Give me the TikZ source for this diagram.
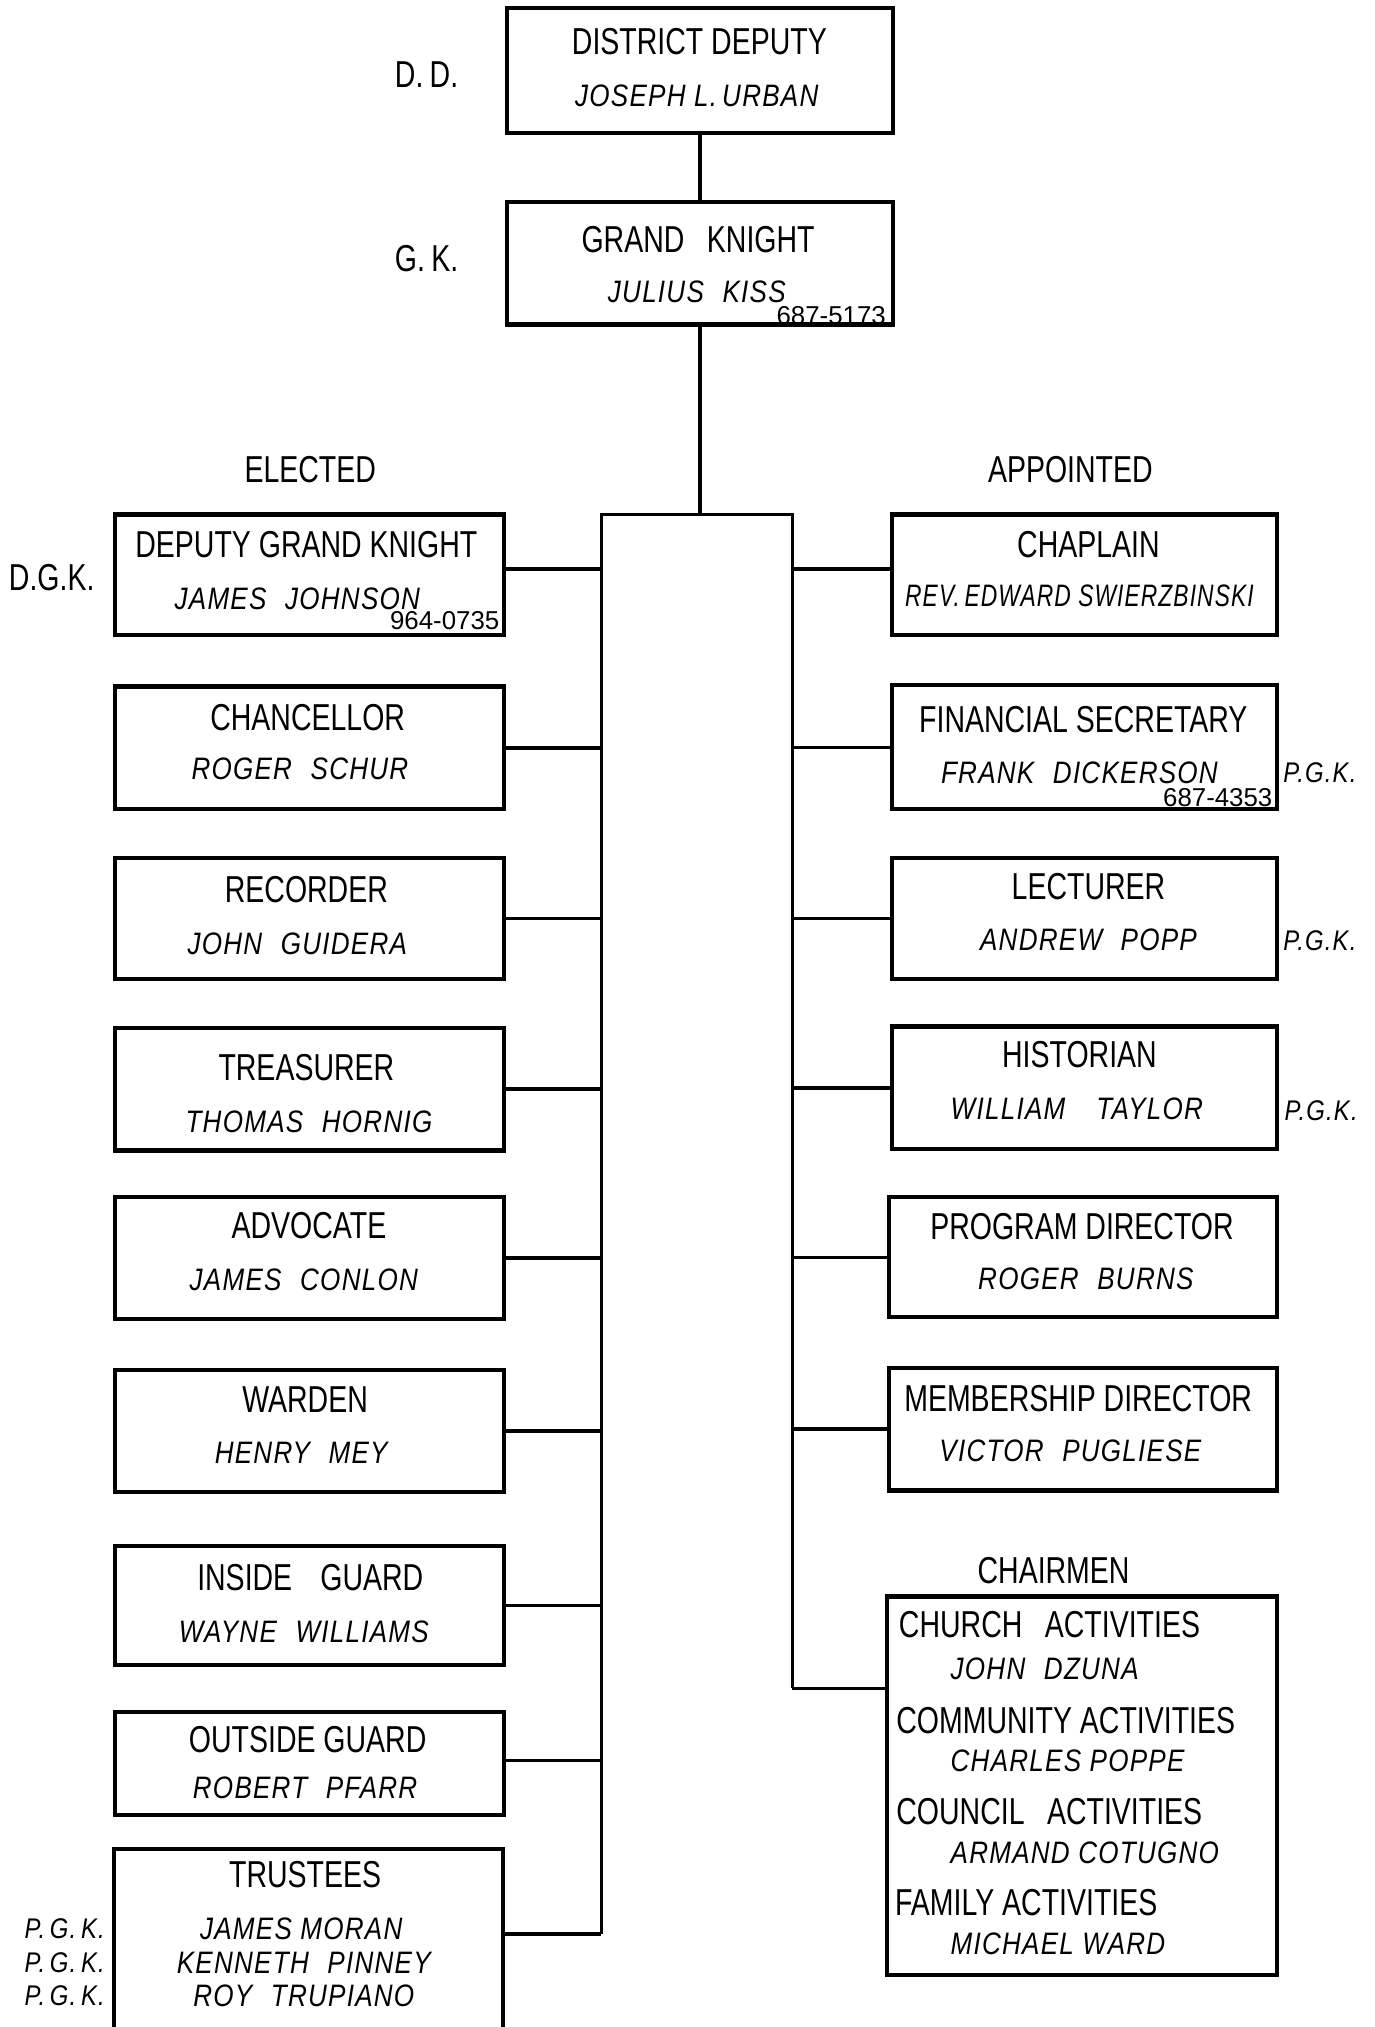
\documentclass[tikz,border=0pt]{standalone}
\usepackage{fontspec}
\usepackage{graphicx}
\setmainfont{Liberation Sans}
\newfontfamily\ttlfont[FakeStretch=0.76]{Liberation Sans}
\newfontfamily\nmfont[FakeStretch=0.84,LetterSpace=4]{Liberation Sans}
\newfontfamily\phfont{Liberation Sans}
\usetikzlibrary{fit}
\newcommand\gap{\hspace{0.6em}}
\tikzset{
  bx/.style={draw, line width=1.6pt, inner sep=0pt},
  cn/.style={line width=1.3pt},
  bus/.style={line width=1.15pt},
  tt/.style={font=\ttlfont\fontsize{14.5}{16}\selectfont, inner sep=0pt},
  nm/.style={font=\nmfont\itshape\fontsize{12}{14}\selectfont, inner sep=0pt},
  ph/.style={font=\phfont\fontsize{10}{12}\selectfont, inner sep=0pt},
  pgk/.style={font=\nmfont\itshape\fontsize{11}{13}\selectfont, inner sep=0pt},
}
\begin{document}
\begin{tikzpicture}[x=0.5pt,y=-0.5pt]
\useasboundingbox (0,0) rectangle (1063,1568);
\fill[white] (0,0) rectangle (1063,1568);

% top boxes
\node[bx, fit={(392,6) (691,103)}] (dd) {};
\node[bx, fit={(392,156) (691,251)}] (gk) {};
\node[tt] (ddT) at (541,32) {DISTRICT DEPUTY};
\node[nm] (ddN) at (539,74) {JOSEPH L.\,URBAN};
\node[tt] (gkT) at (540,185) {GRAND\gap KNIGHT};
\node[nm] (gkN) at (539,226) {JULIUS\gap KISS};
\node[ph] (gkP) at (643,244) {687-5173};
\node[tt] (ddL) at (330,58) {D.\,D.};
\node[tt] (gkL) at (330,200) {G.\,K.};

\node[tt] (elected) at (240,363) {ELECTED};
\node[tt] (appointed) at (828,363) {APPOINTED};
\node[tt] (chairmen) at (815,1215) {CHAIRMEN};

% left column
\node[bx, fit={(89,398) (390,491)}] (dgk) {};
\node[bx, fit={(89,531) (390,626)}] (chan) {};
\node[bx, fit={(89,664) (390,757)}] (rec) {};
\node[bx, fit={(89,795) (390,890)}] (treas) {};
\node[bx, fit={(89,926) (390,1020)}] (adv) {};
\node[bx, fit={(89,1060) (390,1154)}] (ward) {};
\node[bx, fit={(89,1196) (390,1288)}] (ig) {};
\node[bx, fit={(89,1324) (390,1404)}] (og) {};
\node[bx, fit={(88,1430) (389,1610)}] (trus) {};

\node[tt] (dgkT) at (237,421) {DEPUTY GRAND KNIGHT};
\node[nm] (dgkN) at (230,463) {JAMES\gap JOHNSON};
\node[ph] (dgkP) at (344,480) {964-0735};
\node[tt] (dgkL) at (40,447) {D.G.K.};
\node[tt] (chanT) at (238,555) {CHANCELLOR};
\node[nm] (chanN) at (232,595) {ROGER\gap SCHUR};
\node[tt] (recT) at (237,688) {RECORDER};
\node[nm] (recN) at (230,730) {JOHN\gap GUIDERA};
\node[tt] (treasT) at (237,826) {TREASURER};
\node[nm] (treasN) at (239,868) {THOMAS\gap HORNIG};
\node[tt] (advT) at (239,948) {ADVOCATE};
\node[nm] (advN) at (235,990) {JAMES\gap CONLON};
\node[tt] (wardT) at (236,1083) {WARDEN};
\node[nm] (wardN) at (233,1124) {HENRY\gap MEY};
\node[tt] (igT) at (240,1220) {INSIDE\hspace{0.75em}GUARD};
\node[nm] (igN) at (235,1262) {WAYNE\gap WILLIAMS};
\node[tt] (ogT) at (238,1346) {OUTSIDE GUARD};
\node[nm] (ogN) at (236,1383) {ROBERT\gap PFARR};
\node[tt] (trusT) at (236,1450) {TRUSTEES};
\node[nm] (trusN1) at (233,1492) {JAMES MORAN};
\node[nm] (trusN2) at (235,1518) {KENNETH\gap PINNEY};
\node[nm] (trusN3) at (235,1544) {ROY\gap TRUPIANO};
\node[pgk] (trusL1) at (50,1492) {P.\,G.\,K.};
\node[pgk] (trusL2) at (50,1518) {P.\,G.\,K.};
\node[pgk] (trusL3) at (50,1544) {P.\,G.\,K.};

% right column
\node[bx, fit={(690,398) (988,491)}] (chap) {};
\node[bx, fit={(690,530) (988,626)}] (fin) {};
\node[bx, fit={(690,664) (988,757)}] (lec) {};
\node[bx, fit={(690,794) (988,889)}] (hist) {};
\node[bx, fit={(688,926) (988,1019)}] (prog) {};
\node[bx, fit={(688,1058) (988,1153)}] (memb) {};
\node[bx, fit={(686,1235) (988,1528)}] (chair) {};

\node[tt] (chapT) at (842,421) {CHAPLAIN};
\node[nm] (chapN) at (835,461) {\scalebox{0.875}[1]{REV.\,EDWARD SWIERZBINSKI}};
\node[tt] (finT) at (838,557) {FINANCIAL SECRETARY};
\node[nm] (finN) at (835,598) {FRANK\gap DICKERSON};
\node[ph] (finP) at (942,617) {687-4353};
\node[pgk] (finL) at (1021,598) {P.G.K.};
\node[tt] (lecT) at (842,686) {LECTURER};
\node[nm] (lecN) at (842,727) {ANDREW\gap POPP};
\node[pgk] (lecL) at (1021,728) {P.G.K.};
\node[tt] (histT) at (835,816) {HISTORIAN};
\node[nm] (histN) at (833,858) {WILLIAM\hspace{1.0em}TAYLOR};
\node[pgk] (histL) at (1022,859) {P.G.K.};
\node[tt] (progT) at (837,949) {PROGRAM DIRECTOR};
\node[nm] (progN) at (840,989) {ROGER\gap BURNS};
\node[tt] (membT) at (834,1082) {MEMBERSHIP DIRECTOR};
\node[nm] (membN) at (828,1122) {VICTOR\gap PUGLIESE};

\node[tt, anchor=west] (c1T) at (695,1257) {CHURCH\gap ACTIVITIES};
\node[nm, anchor=west] (c1N) at (735,1291) {JOHN\gap DZUNA};
\node[tt, anchor=west] (c2T) at (693,1331) {COMMUNITY ACTIVITIES};
\node[nm, anchor=west] (c2N) at (735,1362) {CHARLES POPPE};
\node[tt, anchor=west] (c3T) at (693,1401) {COUNCIL\gap ACTIVITIES};
\node[nm, anchor=west] (c3N) at (735,1433) {ARMAND COTUGNO};
\node[tt, anchor=west] (c4T) at (692,1472) {FAMILY ACTIVITIES};
\node[nm, anchor=west] (c4N) at (735,1504) {MICHAEL WARD};

% bus
\coordinate (bTL) at (465,398);
\coordinate (bTR) at (613,398);
\coordinate (bL) at (465,1496);
\coordinate (bR) at (613,1306);
\draw[bus] (bL) -- (bTL) -- (bTR) -- (bR);

% connectors
\draw[cn] (dd.south) -- (gk.north);
\draw[cn] (gk.south) -- (gk.south |- bTL);
\draw[cn] ([yshift=2.2pt]dgk.east) -- ([yshift=2.2pt]dgk.east -| bL);
\draw[cn] (chan.east) -- (chan.east -| bL);
\draw[cn] (rec.east) -- (rec.east -| bL);
\draw[cn] (treas.east) -- (treas.east -| bL);
\draw[cn] (adv.east) -- (adv.east -| bL);
\draw[cn] (ward.east) -- (ward.east -| bL);
\draw[cn] (ig.east) -- (ig.east -| bL);
\draw[cn] ([yshift=1pt]og.east) -- ([yshift=1pt]og.east -| bL);
\draw[cn] (bL) -- (bL -| trus.east);
\draw[cn] ([yshift=2.2pt]chap.west) -- ([yshift=2.2pt]chap.west -| bR);
\draw[cn] (fin.west) -- (fin.west -| bR);
\draw[cn] (lec.west) -- (lec.west -| bR);
\draw[cn] (hist.west) -- (hist.west -| bR);
\draw[cn] (prog.west) -- (prog.west -| bR);
\draw[cn] (memb.west) -- (memb.west -| bR);
\draw[cn] (bR) -- (bR -| chair.west);
\end{tikzpicture}
\end{document}
